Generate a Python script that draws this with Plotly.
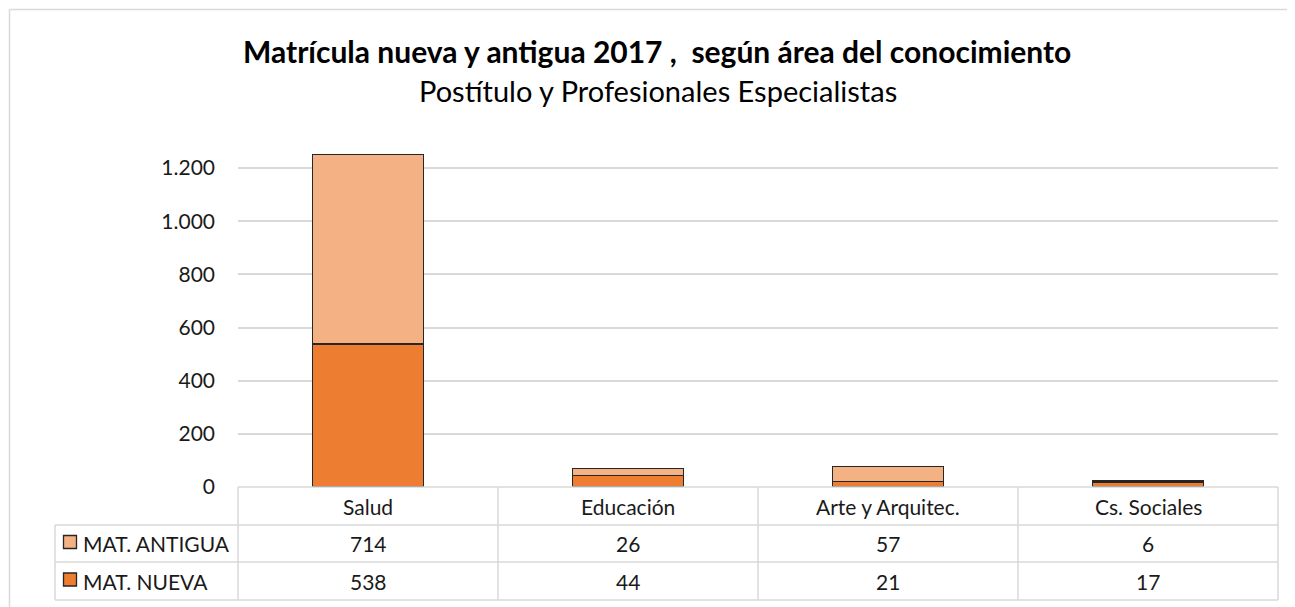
import plotly.graph_objects as go

# datos
areas = ["Salud", "Educación", "Arte y Arquitec.", "Cs. Sociales"]
mat_antigua = [714, 26, 57, 6]
mat_nueva = [538, 44, 21, 17]
series_names = ["MAT. ANTIGUA", "MAT. NUEVA"]

titulo = "Matrícula nueva y antigua 2017 ,  según área del conocimiento"
subtitulo = "Postítulo y Profesionales Especialistas"

COLOR_ANTIGUA = "#F4B183"
COLOR_NUEVA = "#ED7D31"
BORDE = "#262626"
GRIS = "#d9d9d9"
TEXTO = "#1a1a1a"
FUENTE = "Lato, 'Noto Sans', sans-serif"

# la página tiene 8px de margen en el body
OFF = 8
W, H = 1295 - OFF, 607 - OFF
L, T = 238 - OFF, 153 - OFF
R = W - (1278 - OFF)
B = H - (487 - OFF)
PW = W - L - R
PH = H - T - B


# pixel de pantalla -> paper
def px(x):
    return (x - OFF - L) / PW


def py(y):
    return (H - B - (y - OFF)) / PH


fig = go.Figure()
fig.add_trace(go.Bar(x=areas, y=mat_nueva, name=series_names[1],
                     marker=dict(color=COLOR_NUEVA, line=dict(color=BORDE, width=1.4))))
fig.add_trace(go.Bar(x=areas, y=mat_antigua, name=series_names[0],
                     marker=dict(color=COLOR_ANTIGUA, line=dict(color=BORDE, width=1.4))))

shapes = []
annotations = []

# borde del gráfico (solo arriba e izquierda quedan dentro de la imagen)
borde_graf = dict(color=GRIS, width=1.5)
shapes.append(dict(type="line", xref="paper", yref="paper",
                   x0=px(9.5), x1=px(1300), y0=py(9.5), y1=py(9.5), line=borde_graf))
shapes.append(dict(type="line", xref="paper", yref="paper",
                   x0=px(9.5), x1=px(9.5), y0=py(9.5), y1=py(620), line=borde_graf))

# tabla de datos
linea = dict(color=GRIS, width=1.5)
y_top, y_hdr, y_r1, y_r2 = py(487), py(525), py(562), py(600)
x_left = px(55)
# horizontales
shapes.append(dict(type="line", xref="paper", yref="paper", x0=0, x1=1, y0=y_top, y1=y_top, line=linea))
for yy in (y_hdr, y_r1, y_r2):
    shapes.append(dict(type="line", xref="paper", yref="paper", x0=x_left, x1=1, y0=yy, y1=yy, line=linea))
# verticales
shapes.append(dict(type="line", xref="paper", yref="paper", x0=x_left, x1=x_left, y0=y_hdr, y1=y_r2, line=linea))
for i in range(len(areas) + 1):
    xx = i / len(areas)
    shapes.append(dict(type="line", xref="paper", yref="paper", x0=xx, x1=xx, y0=y_top, y1=y_r2, line=linea))

# encabezados y valores
font_tabla = dict(family=FUENTE, size=21, color=TEXTO)
celda = dict(xref="paper", yref="paper", showarrow=False, xanchor="center", yanchor="middle", font=font_tabla)
for i, area in enumerate(areas):
    xc = (i + 0.5) / len(areas)
    annotations.append(dict(x=xc, y=(y_top + y_hdr) / 2, text=area, **celda))
    annotations.append(dict(x=xc, y=(y_hdr + y_r1) / 2, text=str(mat_antigua[i]), **celda))
    annotations.append(dict(x=xc, y=(y_r1 + y_r2) / 2, text=str(mat_nueva[i]), **celda))

# leyenda dentro de la tabla
for nombre, color, (ya, yb) in zip(series_names, [COLOR_ANTIGUA, COLOR_NUEVA],
                                   [(y_hdr, y_r1), (y_r1, y_r2)]):
    yc = (ya + yb) / 2 + 1.5 / PH
    shapes.append(dict(type="rect", xref="paper", yref="paper",
                       x0=px(63.5), x1=px(76.5), y0=yc - 6.5 / PH, y1=yc + 6.5 / PH,
                       fillcolor=color, line=dict(color=BORDE, width=1.3)))
    annotations.append(dict(x=px(81), y=(ya + yb) / 2, xref="paper", yref="paper", text=nombre,
                            showarrow=False, xanchor="left", yanchor="middle", font=font_tabla))

# títulos
annotations.append(dict(x=px(657), y=py(51), xref="paper", yref="paper",
                        text=f"<b>{titulo}</b>", showarrow=False, xanchor="center", yanchor="middle",
                        font=dict(family=FUENTE, size=30, color="#000000")))
annotations.append(dict(x=px(658), y=py(90), xref="paper", yref="paper",
                        text=subtitulo, showarrow=False, xanchor="center", yanchor="middle",
                        font=dict(family=FUENTE, size=29, color="#000000")))

fig.update_layout(
    width=W, height=H,
    margin=dict(l=L, r=R, t=T, b=B),
    barmode="stack",
    bargap=0.573,
    showlegend=False,
    plot_bgcolor="white",
    paper_bgcolor="white",
    separators=",.",
    font=dict(family=FUENTE, color=TEXTO),
    shapes=shapes,
    annotations=annotations,
    xaxis=dict(showticklabels=False, showgrid=False, zeroline=False, showline=False,
               range=[-0.5, len(areas) - 0.5]),
    yaxis=dict(range=[0, PH / 0.2658], tickvals=[0, 200, 400, 600, 800, 1000, 1200],
               tickformat=",d", showgrid=True, gridcolor=GRIS, gridwidth=1.5,
               zeroline=False, showline=False, ticks="", ticklabelstandoff=22,
               tickfont=dict(family=FUENTE, size=21, color=TEXTO)),
)

fig.write_html("out.html")
